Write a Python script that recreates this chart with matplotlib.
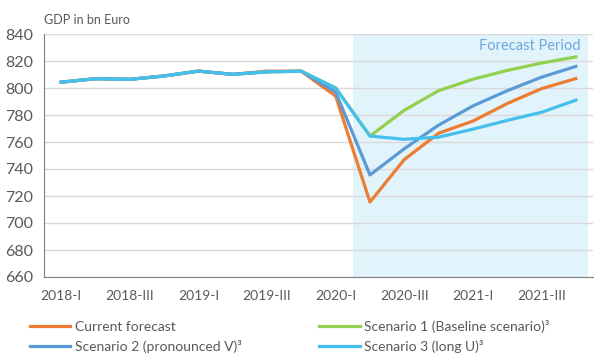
import matplotlib
matplotlib.use("Agg")
import matplotlib.pyplot as plt
import numpy as np

quarters = ["2018-I", "2018-II", "2018-III", "2018-IV",
            "2019-I", "2019-II", "2019-III", "2019-IV",
            "2020-I", "2020-II", "2020-III", "2020-IV",
            "2021-I", "2021-II", "2021-III", "2021-IV"]
tick_labels = ["2018-I", "2018-III", "2019-I", "2019-III",
               "2020-I", "2020-III", "2021-I", "2021-III"]

history = [804.3, 806.9, 806.4, 808.9, 812.5, 810.1, 812.0, 812.4]
current = history[:6] + [812.5, 812.4] + [794, 715.5, 747, 766.5, 775.5, 788.5, 799.5, 807]
scen1 = history + [800, 764.4, 783.5, 798, 806.5, 813, 818.5, 823]
scen2 = history + [797, 735.6, 755, 772.5, 786.7, 798, 808, 816]
scen3 = history + [800, 764.4, 762, 763.6, 769.5, 776, 782, 791]

c_cur = "#ED7D31"
c_s1 = "#92D050"
c_s2 = "#5B9BD5"
c_s3 = "#45BFEC"
gray = "#595959"

plt.rcParams['font.family'] = ['Lato', 'DejaVu Sans']

fig = plt.figure(figsize=(6.12, 3.63), dpi=100)
ax = fig.add_axes([44/612, 1-277/363, (593-44)/612, (277-34)/363])

x = np.arange(len(quarters))
ax.axvspan(8.5, 15.35, color="#E1F3FB", zorder=0, lw=0)

lw = 2.3
ax.plot(x, scen1, color=c_s1, lw=lw, zorder=3, label="Scenario 1 (Baseline scenario)³")
ax.plot(x, current, color=c_cur, lw=lw, zorder=4, label="Current forecast")
ax.plot(x, scen2, color=c_s2, lw=lw, zorder=5, label="Scenario 2 (pronounced V)³")
ax.plot(x, scen3, color=c_s3, lw=lw, zorder=6, label="Scenario 3 (long U)³")

ax.set_xlim(-0.5, 15.5)
ax.set_ylim(660, 840)
ax.set_yticks(np.arange(660, 841, 20))
ax.set_xticks(np.arange(0, 16, 2))
ax.set_xticklabels(tick_labels)
ax.grid(axis='y', color="#D9D9D9", lw=1, zorder=1)
ax.set_axisbelow(True)
for s in ['top', 'right']:
    ax.spines[s].set_visible(False)
ax.spines['left'].set_color("#7F7F7F")
ax.spines['bottom'].set_color("#7F7F7F")
ax.tick_params(axis='both', length=0, colors=gray)
ax.tick_params(axis='x', pad=9, labelsize=10)
ax.tick_params(axis='y', pad=8, labelsize=11.5)

fig.text(44/612, 1-20/363, "GDP in bn Euro", color=gray, fontsize=9, va='center', ha='left')
ax.text(15.15, 836.5, "Forecast Period", color="#6FA8DC", fontsize=10.5, ha='right', va='top')

handles, labels = ax.get_legend_handles_labels()
d = dict(zip(labels, handles))
order = ["Current forecast", "Scenario 2 (pronounced V)³",
         "Scenario 1 (Baseline scenario)³", "Scenario 3 (long U)³"]
leg = fig.legend([d[k] for k in order], order, ncol=2, loc='upper left',
                 bbox_to_anchor=(24/612, 1-314/363), frameon=False, fontsize=10,
                 handlelength=2.9, handletextpad=0.35, columnspacing=5.6,
                 labelspacing=0.55, borderaxespad=0)
for t in leg.get_texts():
    t.set_color(gray)

fig.savefig("out.png", dpi=100)
